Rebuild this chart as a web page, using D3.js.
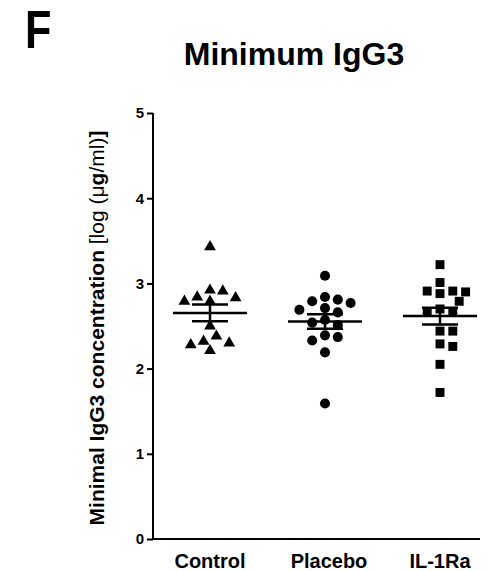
<!DOCTYPE html>
<html>
<head>
<meta charset="utf-8">
<script src="https://cdn.jsdelivr.net/npm/d3@7"></script>
<style>
  body { margin: 0; background: #fff; }
  text { font-family: "Liberation Sans", Arial, sans-serif; }
</style>
</head>
<body>
<svg id="chart" width="490" height="571"></svg>
<script>
  'use strict';

  // data (log ug/ml)
  var groups   = ['Control', 'Placebo', 'IL-1Ra'];
  var control  = [3.43, 2.91, 2.92, 2.83, 2.84, 2.79, 2.79, 2.50, 2.38, 2.30, 2.32, 2.28, 2.21];
  var placebo  = [3.09, 2.84, 2.81, 2.79, 2.77, 2.71, 2.69, 2.66, 2.57, 2.54, 2.51, 2.39, 2.37, 2.33, 2.19, 1.59];
  var il1ra    = [3.22, 3.01, 2.91, 2.91, 2.90, 2.88, 2.79, 2.70, 2.67, 2.67, 2.44, 2.44, 2.29, 2.26, 2.05, 1.72];
  var yTicks   = [0, 1, 2, 3, 4, 5];
  var symbols  = [d3.symbolTriangle, d3.symbolCircle, d3.symbolSquare];

  var series = [control, placebo, il1ra];

  var svg = d3.select('#chart');

  var x = d3.scalePoint().domain(groups).range([210, 440]);
  var y = d3.scaleLinear().domain([0, 5]).range([539, 113]);

  // panel letter + title
  svg.append('text')
    .attr('x', 25).attr('y', 48)
    .style('font-size', '54px').style('font-weight', 'bold')
    .attr('transform', 'translate(25,0) scale(0.8,1) translate(-25,0)')
    .text('F');

  svg.append('text')
    .attr('x', 294).attr('y', 65)
    .attr('text-anchor', 'middle')
    .style('font-size', '32px').style('font-weight', 'bold')
    .text('Minimum IgG3');

  // y axis (ticks from d3, labels drawn separately)
  var yAxis = svg.append('g')
    .attr('transform', 'translate(153,0)')
    .call(d3.axisLeft(y).tickValues(yTicks).tickSize(6).tickFormat(''));
  yAxis.select('.domain').attr('stroke-width', 2).attr('d', 'M0,' + y(5) + 'V' + y(0));
  yAxis.selectAll('.tick line').attr('stroke-width', 2);

  svg.selectAll('.ylab').data(yTicks).enter().append('text')
    .attr('class', 'ylab')
    .attr('x', 144)
    .attr('y', function(d){ return y(d); })
    .attr('dy', '0.36em')
    .attr('text-anchor', 'end')
    .style('font-size', '15px').style('font-weight', 'bold')
    .text(function(d){ return d; });

  // x axis (line only, labels below)
  svg.append('line')
    .attr('x1', 152).attr('x2', 480)
    .attr('y1', y(0)).attr('y2', y(0))
    .attr('stroke', '#000').attr('stroke-width', 2);

  svg.selectAll('.xlab').data(groups).enter().append('text')
    .attr('class', 'xlab')
    .attr('x', function(d, i){ return x(d) + (i === 1 ? 4 : 0); })
    .attr('y', 568)
    .attr('text-anchor', 'middle')
    .style('font-size', '20px').style('font-weight', 'bold')
    .text(function(d){ return d; });

  // y axis title
  var yt = svg.append('text')
    .attr('transform', 'translate(104,328) rotate(-90)')
    .attr('text-anchor', 'middle')
    .style('font-size', '21px');
  yt.append('tspan').style('font-weight', 'bold').text('Minimal IgG3 concentration ');
  yt.append('tspan').text('[log (\u03bc');
  yt.append('tspan').style('font-weight', 'bold').text('g');
  yt.append('tspan').text('/ml)');
  yt.append('tspan').style('font-weight', 'bold').text(']');

  // simple beeswarm: greedy, highest values first
  var step = 6.4, minDist = 11;
  function swarm(vals){
    var placed = [];
    vals.slice().sort(function(a, b){ return b - a; }).forEach(function(v){
      var py = y(v);
      for(var k = 0; k < 40; k++){
        var off = (k % 2 ? 1 : -1) * Math.ceil(k / 2) * step;
        var clash = placed.some(function(p){
          var dx = p.dx - off, dy = p.py - py;
          return dx * dx + dy * dy < minDist * minDist;
        });
        if(!clash){ placed.push({v: v, py: py, dx: off}); break; }
      }
    });
    return placed;
  }

  series.forEach(function(vals, i){
    var cx = x(groups[i]);
    var g = svg.append('g');
    var pts = swarm(vals);

    g.selectAll('path').data(pts).enter().append('path')
      .attr('d', d3.symbol().type(symbols[i]).size(i === 0 ? 60 : 80))
      .attr('transform', function(d){ return 'translate(' + (cx + d.dx) + ',' + d.py + ')'; })
      .attr('fill', '#000');

    var mean = d3.mean(vals);
    var sem  = d3.deviation(vals) / Math.sqrt(vals.length);

    g.append('line')
      .attr('x1', cx - 37).attr('x2', cx + 37)
      .attr('y1', y(mean)).attr('y2', y(mean))
      .attr('stroke', '#000').attr('stroke-width', 2.5);
    g.append('line')
      .attr('x1', cx).attr('x2', cx)
      .attr('y1', y(mean + sem)).attr('y2', y(mean - sem))
      .attr('stroke', '#000').attr('stroke-width', 2.5);
    [mean + sem, mean - sem].forEach(function(v){
      g.append('line')
        .attr('x1', cx - 18).attr('x2', cx + 18)
        .attr('y1', y(v)).attr('y2', y(v))
        .attr('stroke', '#000').attr('stroke-width', 2.5);
    });
  });
</script>
</body>
</html>
